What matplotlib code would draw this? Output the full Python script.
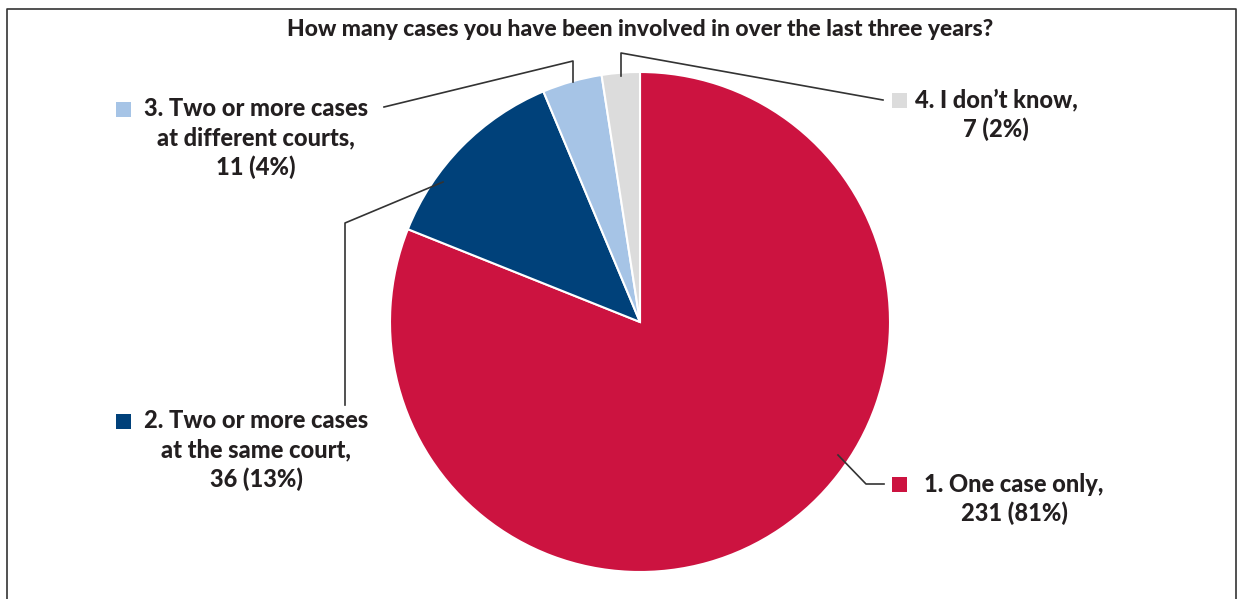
import matplotlib.pyplot as plt
from matplotlib.lines import Line2D
from matplotlib.patches import Rectangle

# data
categories = ["1. One case only,", "2. Two or more cases\nat the same court,",
              "3. Two or more cases\nat different courts,", "4. I don\u2019t know,"]
counts = [231, 36, 11, 7]
percents = [81, 13, 4, 2]
colors = ["#CC1340", "#00417A", "#A6C4E6", "#DCDCDC"]
title = "How many cases you have been involved in over the last three years?"

W, H = 1238, 599
plt.rcParams['font.family'] = ['Lato', 'DejaVu Sans']
TXT = "#231F20"

fig = plt.figure(figsize=(W / 100, H / 100), dpi=100)
ax = fig.add_axes([0, 0, 1, 1])

# pie in pixel coords (y up)
cx, cy, r = 640, H - 322, 250
ax.pie(counts, colors=colors, startangle=90, counterclock=False,
       center=(cx, cy), radius=r,
       wedgeprops=dict(edgecolor="white", linewidth=1.5))
ax.set_xlim(0, W)
ax.set_ylim(0, H)
ax.set_aspect("auto")
ax.axis("off")

def py(y):
    return H - y

# leader lines (pixel coords, image y down)
leaders = [
    [(838, 455), (866, 484), (884, 484)],
    [(443, 182), (345, 223), (345, 405)],
    [(573, 82), (573, 61), (384, 107)],
    [(621, 76), (621, 53), (883, 100)],
]
for pts in leaders:
    xs = [p[0] for p in pts]
    ys = [py(p[1]) for p in pts]
    ax.add_line(Line2D(xs, ys, color="#333333", lw=1.2))

# label layout: square marker x, first line y, text center x
label_pos = [(892, 484, 1014), (116, 421, 256), (116, 109, 256), (892, 100, 996)]
for i, (cat, n, p) in enumerate(zip(categories, counts, percents)):
    sx, ly, tx = label_pos[i]
    ax.add_patch(Rectangle((sx, py(ly) - 8), 15, 15, color=colors[i], lw=0))
    lines = cat.split("\n") + [f"{n} ({p}%)"]
    for k, line in enumerate(lines):
        ax.text(tx, py(ly + 29 * k), line, ha="center", va="center",
                fontsize=17, fontweight="black", color=TXT)

ax.text(640, py(29), title, ha="center", va="center", fontsize=16.5,
        fontweight="black", color=TXT)

# frame (open at the bottom)
ax.add_line(Line2D([6.5, 6.5, 1236, 1236], [0, py(9), py(9), 0],
                   color="#333333", lw=1.2, clip_on=False))

fig.savefig("out.png", dpi=100)
